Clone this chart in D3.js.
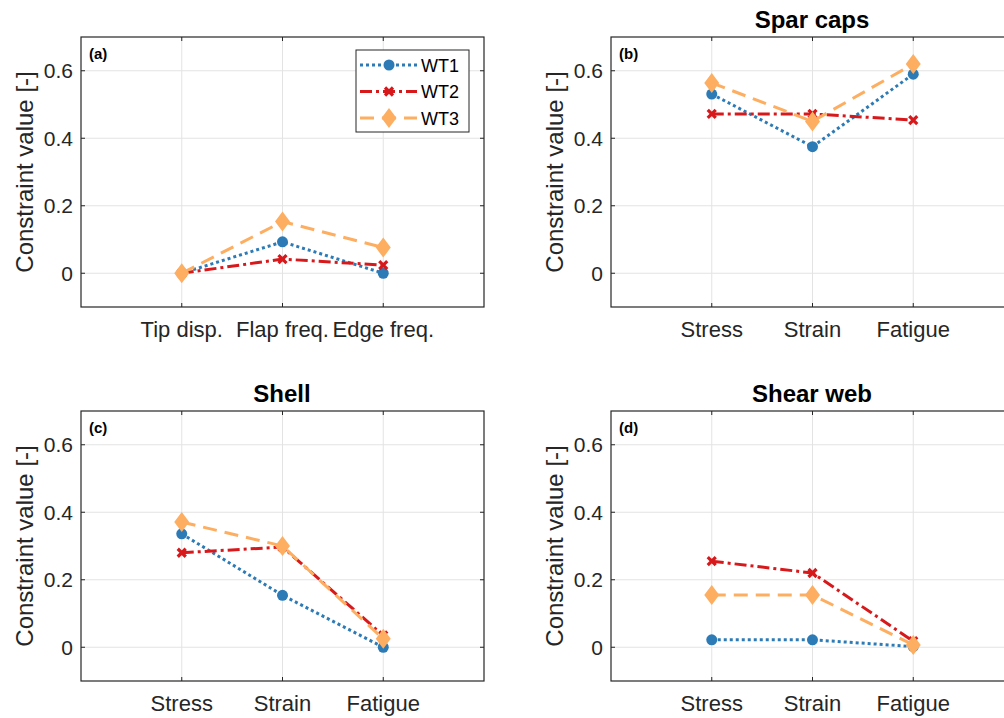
<!DOCTYPE html>
<html>
<head>
<meta charset="utf-8">
<script src="https://cdn.jsdelivr.net/npm/d3@7"></script>
<style>
  body { margin: 0; background: #fff; }
  svg { display: block; font-family: "Liberation Sans", Arial, Helvetica, sans-serif; }
</style>
</head>
<body>
<div id="chart"></div>
<script>
// Categories
const tipCats = ['Tip disp.', 'Flap freq.', 'Edge freq.'];
const matCats = ['Stress', 'Strain', 'Fatigue'];
const seriesNames = ['WT1', 'WT2', 'WT3'];
const yTicks = [0, 0.2, 0.4, 0.6];

// (a) tip / frequency constraints
const aWT1 = [0, 0.093, 0];
const aWT2 = [0, 0.042, 0.024];
const aWT3 = [0, 0.153, 0.076];

// (b) spar caps
const bWT1 = [0.531, 0.375, 0.590];
const bWT2 = [0.472, 0.472, 0.454];
const bWT3 = [0.564, 0.450, 0.620];

// (c) shell
const cWT1 = [0.336, 0.154, 0];
const cWT2 = [0.280, 0.297, 0.035];
const cWT3 = [0.371, 0.300, 0.025];

// (d) shear web
const dWT1 = [0.022, 0.022, 0.002];
const dWT2 = [0.255, 0.220, 0.018];
const dWT3 = [0.155, 0.155, 0.007];

const W = 1004, H = 718;
const textCol = '#262626';
const colors = ['#2c7bb6', '#d7191c', '#fdae61'];
const dashes = ['3 3', '12 4 3 4', '14 8'];

const svg = d3.select('#chart').append('svg')
    .attr('width', W)
    .attr('height', H);

const panels = [
    {left: 81, top: 37, cats: tipCats, series: [aWT1, aWT2, aWT3], tag: '(a)', title: '', legend: true},
    {left: 611, top: 37, cats: matCats, series: [bWT1, bWT2, bWT3], tag: '(b)', title: 'Spar caps'},
    {left: 81, top: 411, cats: matCats, series: [cWT1, cWT2, cWT3], tag: '(c)', title: 'Shell'},
    {left: 611, top: 411, cats: matCats, series: [dWT1, dWT2, dWT3], tag: '(d)', title: 'Shear web'},
];
const pw = 403, ph = 270;

function drawMarker(g, i, x, y) {
    if (i === 0) {
        g.append('circle')
            .attr('cx', x).attr('cy', y).attr('r', 5.5)
            .attr('fill', colors[0]);
    } else if (i === 1) {
        const s = 4;
        g.append('path')
            .attr('d', `M${x - s},${y - s}L${x + s},${y + s}M${x - s},${y + s}L${x + s},${y - s}`)
            .attr('stroke', colors[1])
            .attr('stroke-width', 3.2)
            .attr('fill', 'none');
    } else {
        g.append('path')
            .attr('d', `M${x},${y - 10}L${x + 7.5},${y}L${x},${y + 10}L${x - 7.5},${y}Z`)
            .attr('fill', colors[2]);
    }
}

panels.forEach((p, pi) => {
    const x = d3.scaleLinear().domain([0, 4]).range([p.left, p.left + pw]);
    const y = d3.scaleLinear().domain([-0.1, 0.7]).range([p.top + ph, p.top]);
    const g = svg.append('g');

    // grid
    g.selectAll('.gx').data(d3.range(1, p.cats.length + 1)).enter()
        .append('line')
        .attr('x1', d => x(d)).attr('x2', d => x(d))
        .attr('y1', p.top).attr('y2', p.top + ph)
        .attr('stroke', '#e3e3e3').attr('stroke-width', 1);
    g.selectAll('.gy').data(yTicks).enter()
        .append('line')
        .attr('x1', p.left).attr('x2', p.left + pw)
        .attr('y1', d => y(d)).attr('y2', d => y(d))
        .attr('stroke', '#e3e3e3').attr('stroke-width', 1);

    // lines
    p.series.forEach((vals, si) => {
        const line = d3.line()
            .x((d, i) => x(i + 1))
            .y(d => y(d));
        g.append('path')
            .datum(vals)
            .attr('d', line)
            .attr('fill', 'none')
            .attr('stroke', colors[si])
            .attr('stroke-width', 3)
            .attr('stroke-dasharray', dashes[si]);
        vals.forEach((v, i) => drawMarker(g, si, x(i + 1), y(v)));
    });

    // box
    g.append('rect')
        .attr('x', p.left).attr('y', p.top)
        .attr('width', pw).attr('height', ph)
        .attr('fill', 'none')
        .attr('stroke', textCol).attr('stroke-width', 1.2);

    // ticks (inward)
    yTicks.forEach(t => {
        g.append('line')
            .attr('x1', p.left).attr('x2', p.left + 4)
            .attr('y1', y(t)).attr('y2', y(t))
            .attr('stroke', textCol);
        g.append('line')
            .attr('x1', p.left + pw - 4).attr('x2', p.left + pw)
            .attr('y1', y(t)).attr('y2', y(t))
            .attr('stroke', textCol);
        g.append('text')
            .attr('x', p.left - 8).attr('y', y(t) + 7.5)
            .attr('text-anchor', 'end')
            .attr('font-size', 21)
            .attr('fill', textCol)
            .text(t === 0 ? '0' : t.toFixed(1));
    });
    p.cats.forEach((c, i) => {
        g.append('line')
            .attr('x1', x(i + 1)).attr('x2', x(i + 1))
            .attr('y1', p.top + ph).attr('y2', p.top + ph - 4)
            .attr('stroke', textCol);
        g.append('line')
            .attr('x1', x(i + 1)).attr('x2', x(i + 1))
            .attr('y1', p.top).attr('y2', p.top + 4)
            .attr('stroke', textCol);
        g.append('text')
            .attr('x', x(i + 1)).attr('y', p.top + ph + 30)
            .attr('text-anchor', 'middle')
            .attr('font-size', 22)
            .attr('fill', textCol)
            .text(c);
    });

    // y label
    g.append('text')
        .attr('transform', `translate(${p.left - 48},${p.top + ph / 2}) rotate(-90)`)
        .attr('text-anchor', 'middle')
        .attr('font-size', 24)
        .attr('fill', textCol)
        .text('Constraint value [-]');

    // tag
    g.append('text')
        .attr('x', p.left + 8).attr('y', p.top + 22)
        .attr('font-size', 15)
        .attr('font-weight', 'bold')
        .attr('fill', '#000')
        .text(p.tag);

    // title
    if (p.title) {
        g.append('text')
            .attr('x', p.left + 201).attr('y', p.top - 9)
            .attr('text-anchor', 'middle')
            .attr('font-size', 24)
            .attr('font-weight', 'bold')
            .attr('fill', '#000')
            .text(p.title);
    }

    // legend
    if (p.legend) {
        const lg = g.append('g');
        lg.append('rect')
            .attr('x', 356).attr('y', 50)
            .attr('width', 113).attr('height', 82)
            .attr('fill', '#fff')
            .attr('stroke', textCol).attr('stroke-width', 1);
        seriesNames.forEach((name, si) => {
            const ly = 65 + si * 26.5;
            lg.append('line')
                .attr('x1', 360).attr('x2', 417)
                .attr('y1', ly).attr('y2', ly)
                .attr('stroke', colors[si])
                .attr('stroke-width', 3)
                .attr('stroke-dasharray', dashes[si]);
            drawMarker(lg, si, 389, ly);
            lg.append('text')
                .attr('x', 421).attr('y', ly + 6.5)
                .attr('font-size', 18)
                .attr('fill', '#000')
                .text(name);
        });
    }
});
</script>
</body>
</html>
